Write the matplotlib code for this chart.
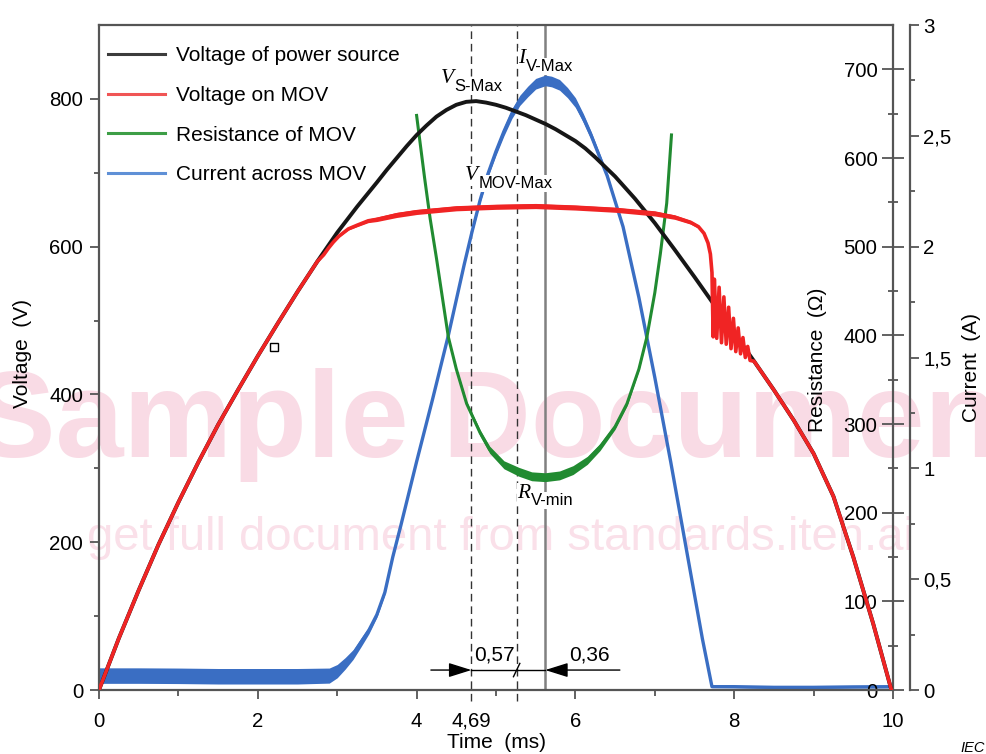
import matplotlib
matplotlib.use('Agg')
import matplotlib.pyplot as plt
from matplotlib.lines import Line2D
from matplotlib.ticker import FixedLocator, MultipleLocator
import matplotlib.transforms as mtransforms
import numpy as np

plt.rcParams['font.family'] = ['Liberation Sans', 'DejaVu Sans']

# ---------------- data ----------------
# Voltage of power source (V)
t_src = [0, 0.25, 0.5, 0.75, 1.0, 1.25, 1.5, 1.75, 2.0, 2.25, 2.5, 2.75, 3.0, 3.25,
         3.5, 3.625, 3.75, 3.875, 4.0, 4.125, 4.25, 4.375, 4.5, 4.625, 4.75,
         4.875, 5.0, 5.125, 5.25, 5.375, 5.5, 5.625, 5.75, 5.875, 6.0, 6.125,
         6.25, 6.375, 6.5, 6.75, 7.0, 7.25, 7.5, 7.75, 8.0, 8.25, 8.5, 8.75,
         9.0, 9.25, 9.5, 9.75, 9.98]
v_src = [0, 70, 135, 197, 254, 308, 359, 406, 452, 496, 539, 580, 619, 654,
         687, 704, 720, 736, 751, 764, 776, 785, 792, 796, 797,
         795, 792, 788, 783, 778, 772, 766, 759, 751, 743, 733,
         721, 708, 695, 665, 632, 596, 559, 521, 483, 445, 406, 365,
         320, 262, 180, 90, 0]

# Voltage on MOV (V)
t_mov = [0, 0.25, 0.5, 0.75, 1.0, 1.25, 1.5, 1.75, 2.0, 2.25, 2.5, 2.75, 2.83,
         2.89, 2.95, 3.02, 3.14, 3.25, 3.39, 3.5, 3.75, 4.0, 4.5, 5.0, 5.5, 6.0,
         6.5, 7.0, 7.25, 7.45, 7.55, 7.62, 7.67, 7.70, 7.72, 7.735, 7.75, 7.78,
         7.81, 7.84, 7.87, 7.90, 7.93, 7.96, 7.99, 8.02, 8.05, 8.08, 8.11, 8.14,
         8.17, 8.20, 8.25, 8.5, 8.75, 9.0, 9.25, 9.5, 9.75, 9.98]
v_mov = [0, 70, 135, 197, 254, 308, 359, 406, 452, 496, 539, 580, 589,
         598, 606, 614, 624, 629, 635, 637, 643, 647, 652, 654, 655, 653,
         650, 645, 640, 633, 627, 618, 605, 590, 565, 478, 556, 476,
         545, 470, 532, 468, 518, 462, 503, 458, 490, 455, 477, 450,
         465, 446, 445, 406, 365, 320, 262, 180, 90, 0]
v_mov_spread = [0, 0, 0, 0, 0, 0, 0, 0, 0, 0, 0, 0, 0,
                0, 0, 1, 1.5, 2, 2.5, 3, 3.5, 3.5, 3.5, 3.5, 3.5, 3.5,
                3.5, 3.5, 3, 2.5, 2, 1.5, 1, 0, 0, 0, 0, 0,
                0, 0, 0, 0, 0, 0, 0, 0, 0, 0, 0, 0,
                0, 0, 0, 0, 0, 0, 0, 0, 0, 0]

# Resistance of MOV (Ohm)
t_res = [4.0, 4.04, 4.1, 4.17, 4.25, 4.4, 4.5, 4.63, 4.8, 4.92, 5.1, 5.29, 5.45,
         5.62, 5.8, 5.97, 6.15, 6.31, 6.5, 6.65, 6.8, 6.9, 7.0, 7.07, 7.15, 7.21]
r_mov = [648, 620, 578, 532, 487, 398, 362, 323, 290, 271, 254, 246, 241,
         240, 242, 248, 259, 274, 297, 323, 362, 398, 448, 492, 549, 626]
r_spread = [0, 0, 0, 0.5, 1, 1.5, 2, 2.5, 3.5, 4, 4.5, 5, 5,
            5, 5, 5, 4.5, 4, 3, 2.5, 1.5, 1, 0.5, 0, 0, 0]

# Current across MOV (A)
t_cur = [0, 0.5, 1.0, 1.5, 2.0, 2.5, 2.9, 3.0, 3.1, 3.2, 3.3, 3.4, 3.5, 3.6, 3.7,
         3.8, 4.0, 4.2, 4.4, 4.6, 4.7, 4.8, 4.9, 5.0, 5.1, 5.2, 5.3, 5.4, 5.5,
         5.62, 5.7, 5.8, 5.9, 6.0, 6.1, 6.2, 6.4, 6.6, 6.8, 7.0, 7.2, 7.4, 7.6,
         7.72, 8.0, 8.5, 9.0, 9.5, 9.98]
i_mov = [0.065, 0.065, 0.064, 0.062, 0.062, 0.062, 0.065, 0.085, 0.12, 0.16,
         0.215, 0.27, 0.34, 0.44, 0.60, 0.74, 1.03, 1.31, 1.60, 1.92, 2.07,
         2.21, 2.33, 2.43, 2.52, 2.60, 2.66, 2.70, 2.735, 2.75, 2.745, 2.73,
         2.695, 2.65, 2.58, 2.50, 2.32, 2.09, 1.77, 1.41, 1.03, 0.63, 0.23,
         0.015, 0.015, 0.012, 0.012, 0.014, 0.015]
i_spread = [0.035, 0.035, 0.035, 0.035, 0.035, 0.035, 0.034, 0.03, 0.026, 0.022,
            0.02, 0.016, 0.012, 0.009, 0.006, 0.005, 0.005, 0.005, 0.005, 0.007,
            0.008, 0.01, 0.014, 0.018, 0.02, 0.022, 0.023, 0.024, 0.024, 0.024,
            0.024, 0.024, 0.023, 0.022, 0.02, 0.018, 0.012, 0.007, 0.005, 0.004,
            0.004, 0.004, 0.004, 0.004, 0.005, 0.005, 0.005, 0.005, 0.005]

marker_t = [2.2]
marker_v = [464]

t_vs_max = 4.69     # V S-Max
t_vmov_max = 5.26   # V MOV-Max
t_iv_max = 5.62     # I V-Max / R V-min
dt_labels = ['0,57', '0,36']

xticks = [0, 2, 4, 4.69, 6, 8, 10]
xticklabels = ['0', '2', '4', '4,69', '6', '8', '10']
xminor = [1, 3, 5, 7, 9]
vticks = [0, 200, 400, 600, 800]
vminor = [100, 300, 500, 700]
rticks = [0, 100, 200, 300, 400, 500, 600, 700]
rminor = [50, 150, 250, 350, 450, 550, 650]
iticks = [0, 0.5, 1, 1.5, 2, 2.5, 3]
iticklabels = ['0', '0,5', '1', '1,5', '2', '2,5', '3']

legend_labels = ['Voltage of power source', 'Voltage on MOV',
                 'Resistance of MOV', 'Current across MOV']

# ---------------- styles ----------------
C_BLACK = '#161616'
C_RED = '#f02424'
C_GREEN = '#218b31'
C_BLUE = '#3a6ec3'
C_SPINE = '#555555'
W, H = 987, 754


def fx(px):
    return px / W


def fy(py):
    return 1 - py / H


fig = plt.figure(figsize=(9.87, 7.54), dpi=100)
ax = fig.add_axes([fx(99), fy(690), (893 - 99) / W, (690 - 25) / H])
ax_r = ax.twinx()
ax_c = ax.twinx()
ax_c.set_zorder(0)
ax_r.set_zorder(1)
ax.set_zorder(2)
for a in (ax, ax_r, ax_c):
    a.patch.set_visible(False)

# watermark (behind everything)
ax_c.text(fx(507), fy(457), 'Sample Document', transform=fig.transFigure,
          fontsize=88, fontweight='bold', color='#f9dbe5', ha='center',
          va='baseline', zorder=0, clip_on=False)
ax_c.text(fx(500), fy(550), 'get full document from standards.iteh.ai',
          transform=fig.transFigure, fontsize=34, color='#fae0e9',
          ha='center', va='baseline', zorder=0, clip_on=False)

# vertical reference lines (behind curves)
trans_c = mtransforms.blended_transform_factory(ax_c.transData, ax_c.transAxes)
for tv in (t_vs_max, t_vmov_max):
    ax_c.plot([tv, tv], [-0.016, 1], color='#333333', lw=1.0,
              dashes=(5.5, 3.5), transform=trans_c, clip_on=False, zorder=1)
ax_c.plot([t_iv_max, t_iv_max], [0, 1], color='#808080', lw=1.8,
          transform=trans_c, zorder=1)

# current
ti = np.array(t_cur)
ii = np.array(i_mov)
si = np.array(i_spread)
ax_c.fill_between(ti, ii - si, ii + si, color=C_BLUE, lw=0, zorder=2)
ax_c.plot(ti, ii, color=C_BLUE, lw=2.4, zorder=2)
ax_c.set_ylim(0, 3)
ax_c.set_xlim(0, 10)

# resistance
tr = np.array(t_res)
rr = np.array(r_mov)
sr = np.array(r_spread)
ax_r.fill_between(tr, rr - sr, rr + sr, color=C_GREEN, lw=0, zorder=2)
ax_r.plot(tr, rr, color=C_GREEN, lw=2.2, zorder=2)
ax_r.set_ylim(0, 750)

# voltages
ax.plot(t_src, v_src, color=C_BLACK, lw=2.8, zorder=2)
tm = np.array(t_mov)
vm = np.array(v_mov)
sm = np.array(v_mov_spread)
ax.fill_between(tm, vm - sm, vm + sm, color=C_RED, lw=0, zorder=3)
ax.plot(tm, vm, color=C_RED, lw=2.6, zorder=3)
ax.plot(marker_t, marker_v, 's', ms=5.5, mfc='white', mec='black', mew=1.0,
        zorder=4)
ax.set_xlim(0, 10)
ax.set_ylim(0, 900)

# ---------------- spines & ticks ----------------
for a in (ax, ax_r, ax_c):
    for s in a.spines.values():
        s.set_color(C_SPINE)
        s.set_linewidth(1.6)
ax.spines['right'].set_visible(False)
for name in ('right', 'top', 'bottom'):
    ax_r.spines[name].set_visible(False)
for name in ('left', 'top', 'bottom'):
    ax_c.spines[name].set_visible(False)

ax.set_xticks(xticks)
ax.set_xticklabels(xticklabels)
ax.xaxis.set_minor_locator(FixedLocator(xminor))
ax.set_yticks(vticks)
ax.set_yticklabels([str(v) for v in vticks])
ax.yaxis.set_minor_locator(FixedLocator(vminor))
ax.tick_params(axis='both', which='major', direction='out', length=6.5,
               width=1.3, color=C_SPINE, labelsize=14.7)
ax.tick_params(axis='x', which='major', pad=9)
ax.tick_params(axis='y', which='major', pad=5)
ax.tick_params(axis='x', which='minor', direction='out', length=4.3, width=1.3,
               color=C_SPINE)
ax.tick_params(axis='y', which='minor', direction='out', length=3.3, width=1.3,
               color=C_SPINE)
ax.xaxis.get_major_ticks()[3].tick1line.set_visible(False)

ax_r.spines['left'].set_visible(True)
ax_r.spines['left'].set_position(('axes', 1.0))
ax_r.yaxis.set_ticks_position('left')
ax_r.set_yticks(rticks)
ax_r.set_yticklabels([str(v) for v in rticks])
ax_r.yaxis.set_minor_locator(FixedLocator(rminor))
ax_r.tick_params(axis='y', which='major', direction='inout', length=16.5,
                 width=1.3, color=C_SPINE, labelsize=14.7, pad=3)
ax_r.tick_params(axis='y', which='minor', direction='inout', length=7,
                 width=1.3, color=C_SPINE)

ax_c.spines['right'].set_position(('outward', 12.2))
ax_c.set_yticks(iticks)
ax_c.set_yticklabels(iticklabels)
ax_c.yaxis.set_minor_locator(MultipleLocator(0.25))
ax_c.tick_params(axis='y', which='major', direction='out', length=6.5,
                 width=1.3, color=C_SPINE, labelsize=14.7, pad=3)
ax_c.tick_params(axis='y', which='minor', direction='out', length=3.6,
                 width=1.3, color=C_SPINE)

# ---------------- axis labels ----------------
fig.text(fx(23), fy(353), 'Voltage  (V)', rotation=90, ha='center',
         va='center', fontsize=15)
fig.text(fx(818), fy(360), 'Resistance  (\u03a9)', rotation=90, ha='center',
         va='center', fontsize=15)
fig.text(fx(972), fy(368), 'Current  (A)', rotation=90, ha='center',
         va='center', fontsize=15)
fig.text(fx(497), fy(742), 'Time  (ms)', ha='center', va='center', fontsize=15)
fig.text(fx(960), fy(752), 'IEC', ha='left', va='baseline', fontsize=10.5,
         style='italic')

# ---------------- legend ----------------
handles = [Line2D([], [], color='#3c3c3c', lw=2.2),
           Line2D([], [], color='#f05555', lw=2.2),
           Line2D([], [], color='#3d9e46', lw=2.2),
           Line2D([], [], color='#5f90d6', lw=2.2)]
ax.legend(handles, legend_labels, loc='upper left',
          bbox_to_anchor=(fx(108), fy(46)), bbox_transform=fig.transFigure,
          frameon=False, fontsize=15, handlelength=2.75, handletextpad=0.5,
          labelspacing=1.0, borderpad=0, borderaxespad=0)


# ---------------- point labels ----------------
def point_label(x_px, base_px, sub_base_px, main, sub):
    fig.text(fx(x_px), fy(base_px), main, ha='right', va='baseline',
             family='Liberation Serif', style='italic', fontsize=15.5,
             bbox=dict(fc='white', ec='none', pad=0.5), zorder=5)
    fig.text(fx(x_px + 0.5), fy(sub_base_px), sub, ha='left', va='baseline',
             fontsize=12, bbox=dict(fc='white', ec='none', pad=1.0), zorder=5)


point_label(454, 83, 91, 'V', 'S-Max')
point_label(525.5, 63, 71, 'I', 'V-Max')
point_label(478.5, 180, 188, 'V', 'MOV-Max')
point_label(530.5, 498, 505, 'R', 'V-min')

# ---------------- interval arrows ----------------
y_arr = 27
ax.annotate('', xy=(t_vs_max, y_arr), xytext=(t_vs_max - 0.51, y_arr),
            arrowprops=dict(arrowstyle='-|>,head_length=0.7,head_width=0.22',
                            mutation_scale=20, color='black', lw=1.0,
                            shrinkA=0, shrinkB=0), zorder=6)
ax.annotate('', xy=(t_iv_max, y_arr), xytext=(t_iv_max + 0.94, y_arr),
            arrowprops=dict(arrowstyle='-|>,head_length=0.7,head_width=0.22',
                            mutation_scale=20, color='black', lw=1.0,
                            shrinkA=0, shrinkB=0), zorder=6)
ax.plot([t_vs_max, t_iv_max], [y_arr, y_arr], color='black', lw=1.0, zorder=6)
ax.plot([t_vmov_max - 0.04, t_vmov_max + 0.04], [y_arr - 9, y_arr + 9],
        color='black', lw=1.0, zorder=6)
ax.text((t_vs_max + t_vmov_max) / 2, 47, dt_labels[0], ha='center',
        va='center', fontsize=15, zorder=6)
ax.text(t_iv_max + 0.56, 47, dt_labels[1], ha='center', va='center',
        fontsize=15, zorder=6)

fig.savefig('out.png', dpi=100, facecolor='white')
